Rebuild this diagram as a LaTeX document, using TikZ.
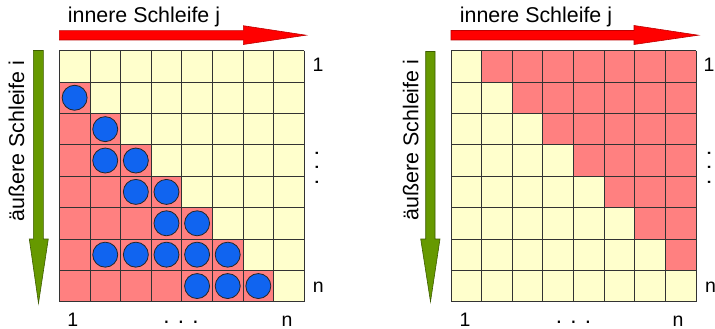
\documentclass[tikz,border=0pt]{standalone}
\usepackage{fontspec}
\setmainfont{Liberation Sans}
\definecolor{cellred}{RGB}{255,128,128}
\definecolor{cellyel}{RGB}{255,255,204}
\definecolor{dotblue}{RGB}{16,100,240}
\definecolor{arrgreen}{RGB}{102,153,0}
\definecolor{arrred}{RGB}{255,0,0}
\begin{document}
\begin{tikzpicture}[x=1pt,y=-1pt,
  gridline/.style={draw=black!80,line width=0.8pt},
  dotnode/.style={circle,fill=dotblue,draw=black!85,line width=0.8pt,minimum size=25pt,inner sep=0pt},
  bigtxt/.style={font=\fontsize{21.4}{25}\selectfont,inner sep=0pt,anchor=base},
  numtxt/.style={font=\fontsize{19.5}{23}\selectfont,inner sep=0pt,anchor=base,text depth=0pt},
  dottxt/.style={font=\fontsize{22.5}{26}\selectfont,inner sep=0pt,anchor=base,text depth=0pt,text height=3pt},
  redarrow/.style={fill=arrred,draw=arrred!75!black,line width=0.6pt},
  greenarrow/.style={fill=arrgreen,draw=arrgreen!60!black,line width=0.6pt}]
\useasboundingbox (0,0) rectangle (715,329);
\def\W{30.62}\def\H{31.38}\def\TY{50.7}
% ---------- left grid ----------
\def\LX{59.3}
\foreach \r in {1,...,8}{\foreach \c in {1,...,8}{
  \ifnum\c<\r \def\fc{cellred}\else\def\fc{cellyel}\fi
  \fill[\fc] ({\LX+(\c-1)*\W},{\TY+(\r-1)*\H}) rectangle ({\LX+\c*\W},{\TY+\r*\H});
}}
\foreach \k in {0,...,8}{
  \draw[gridline] ({\LX+\k*\W},\TY) -- ({\LX+\k*\W},{\TY+8*\H});
  \draw[gridline] (\LX,{\TY+\k*\H}) -- ({\LX+8*\W},{\TY+\k*\H});
}
\foreach \r/\c in {2/1,3/2,4/2,4/3,5/3,5/4,6/4,6/5,7/2,7/3,7/4,7/5,7/6,8/5,8/6,8/7}{
  \node[dotnode] (d\r\c) at ({\LX+(\c-0.5)*\W},{\TY+(\r-0.5)*\H}) {};
}
% ---------- right grid ----------
\def\RX{451}
\foreach \r in {1,...,8}{\foreach \c in {1,...,8}{
  \ifnum\c>\r \def\fc{cellred}\else\def\fc{cellyel}\fi
  \fill[\fc] ({\RX+(\c-1)*\W},{\TY+(\r-1)*\H}) rectangle ({\RX+\c*\W},{\TY+\r*\H});
}}
\foreach \k in {0,...,8}{
  \draw[gridline] ({\RX+\k*\W},\TY) -- ({\RX+\k*\W},{\TY+8*\H});
  \draw[gridline] (\RX,{\TY+\k*\H}) -- ({\RX+8*\W},{\TY+\k*\H});
}
% ---------- arrows ----------
\path[redarrow] (59.3,30.7) -- (243.3,30.7) -- (243.3,25.7) -- (306,35.2) -- (243.3,44.5) -- (243.3,40) -- (59.3,40) -- cycle;
\path[redarrow] (451,30.5) -- (634,30.5) -- (634,25.5) -- (698.3,35.2) -- (634,44.5) -- (634,40) -- (451,40) -- cycle;
\path[greenarrow] (33.3,50.5) -- (43.3,50.5) -- (43.3,239) -- (48.3,239) -- (38.5,303.3) -- (29.3,239) -- (33.3,239) -- cycle;
\path[greenarrow] (425.7,51.5) -- (435,51.5) -- (435,239) -- (440,239) -- (430.5,301.7) -- (420.7,239) -- (425.7,239) -- cycle;
% ---------- texts ----------
\node[bigtxt] (tjL) at (144,22.7) {innere Schleife j};
\node[bigtxt] (tjR) at (536,22.7) {innere Schleife j};
\node[bigtxt,rotate=90] (tiL) at (24,141) {äußere Schleife i};
\node[bigtxt,rotate=90] (tiR) at (418.3,140) {äußere Schleife i};
% left labels
\node[numtxt] (l1r) at (318,71.7) {1};
\node[dottxt,rotate=90] (ldr) at (318,167.5) {. . .};
\node[numtxt] (lnr) at (318.3,292.3) {n};
\node[numtxt] (l1b) at (72.7,326) {1};
\node[dottxt] (ldb) at (181,323.5) {. . .};
\node[numtxt] (lnb) at (287,326) {n};
% right labels
\node[numtxt] (r1r) at (709,71.7) {1};
\node[dottxt,rotate=90] (rdr) at (710.3,167.5) {. . .};
\node[numtxt] (rnr) at (710.5,292.3) {n};
\node[numtxt] (r1b) at (465,326) {1};
\node[dottxt] (rdb) at (573.5,323.5) {. . .};
\node[numtxt] (rnb) at (678,326) {n};
\end{tikzpicture}
\end{document}
